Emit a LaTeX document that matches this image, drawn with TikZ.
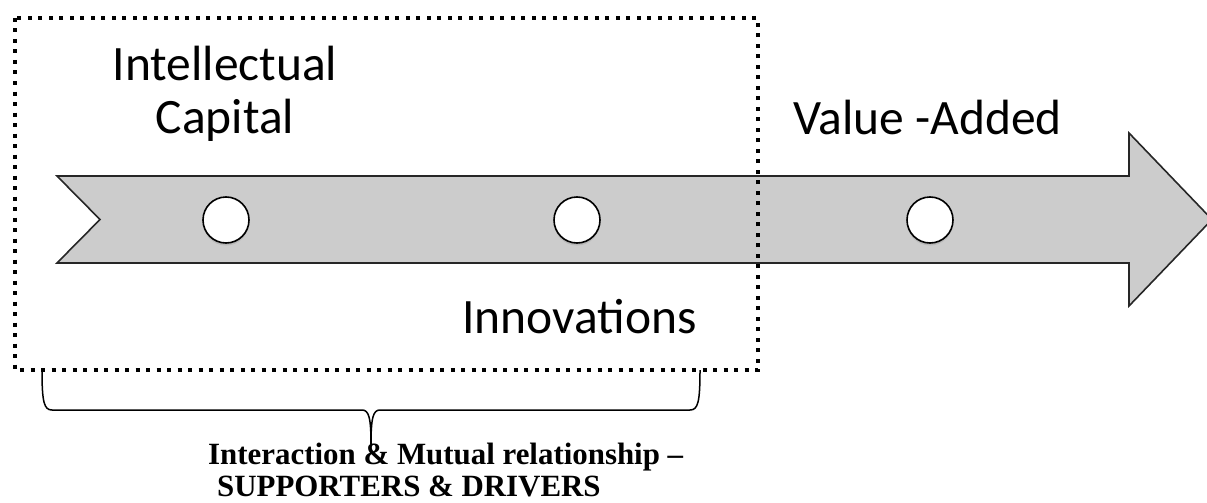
\documentclass[tikz,border=0pt]{standalone}
\usepackage{fontspec}
\usepackage{xcolor}
\setmainfont{Carlito}
\newfontfamily\notefont{Liberation Serif}
\usetikzlibrary{shadows}
\definecolor{l_gray}{HTML}{CCCCCC}
\definecolor{d_gray}{HTML}{262626}

\begin{document}
\begin{tikzpicture}[x=1pt,y=-1pt,
  stage/.style={circle,minimum size=46pt,inner sep=0pt,fill=white,draw=black,line width=1.6pt,
    drop shadow={opacity=0.25,shadow xshift=0pt,shadow yshift=-2.5pt}},
  lbl/.style={inner sep=0pt,font=\fontsize{49.5}{53}\selectfont}]
\useasboundingbox (0,0) rectangle (1207,503);

\draw[fill=l_gray, draw=d_gray, line width=1.6pt] (57,176) -- (1129,176) -- (1129,133) -- (1212,219.5)
  -- (1129,306) -- (1129,263) -- (57,263) -- (100,219.5) -- cycle;

\node[stage] (ic) at (226,220) {};
\node[stage] (in) at (577,220) {};
\node[stage] (va) at (930,220) {};

\draw[line width=4pt, dash pattern=on 4pt off 6.5pt] (15,18) rectangle (758,370);

\node[lbl, align=center, anchor=base] (ictext) at (225,133) {Intellectual\\Capital};
\node[lbl, anchor=base west] (vatext) at (793,134) {Value -Added};
\node[lbl, anchor=base west] (intext) at (462,333) {Innovations};

% brace under the box
\coordinate (bl) at (42,370);
\coordinate (br) at (700,370);
\coordinate (tip) at (371,445);
\draw[line width=1.5pt] (bl) .. controls (42,402) and (44,410) .. (52,410) -- (362,410)
  .. controls (369,410) and (371,418) .. (tip) .. controls (371,418) and (373,410) .. (380,410)
  -- (690,410) .. controls (698,410) and (700,402) .. (br);

\node[inner sep=0pt, anchor=base west, align=left, font=\notefont\bfseries\fontsize{30.9}{32}\selectfont] (note) at (208,496)
  {Interaction \& Mutual relationship \textendash\\\hspace*{9pt}SUPPORTERS \& DRIVERS};

\end{tikzpicture}
\end{document}
